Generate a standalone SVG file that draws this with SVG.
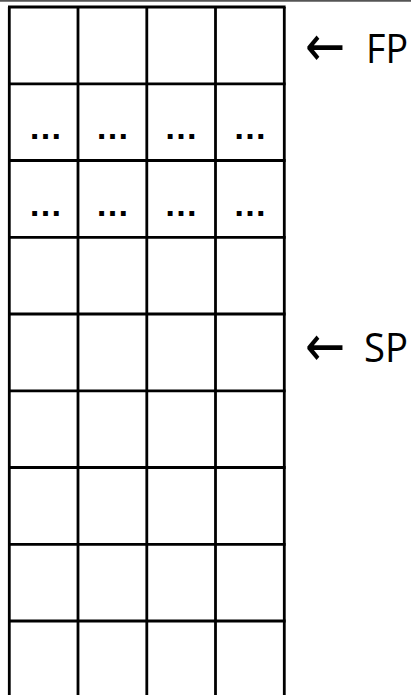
<svg xmlns="http://www.w3.org/2000/svg" width="411" height="695" viewBox="0 0 411 695">
<style>
.g{stroke:#000;stroke-width:2.8;fill:none}
.d{font-family:"Liberation Sans",Arial,sans-serif;font-weight:bold;font-size:34px;text-anchor:middle;fill:#000}
.l{font-family:"Open Sans","Liberation Sans",sans-serif;font-size:40px;fill:#000}
.a{font-family:"DejaVu Sans",sans-serif;font-size:48px;fill:#000}
</style>
<rect width="411" height="695" fill="#fff"/>
<line x1="0" y1="0.8" x2="411" y2="0.8" stroke="#555" stroke-width="2"/>
<g id="grid">
<g id="connectors">
<line class="g" x1="9.3" y1="7" x2="9.3" y2="700"/>
<line class="g" x1="78" y1="7" x2="78" y2="700"/>
<line class="g" x1="146.8" y1="7" x2="146.8" y2="700"/>
<line class="g" x1="215.5" y1="7" x2="215.5" y2="700"/>
<line class="g" x1="284.3" y1="7" x2="284.3" y2="700"/>
<line class="g" x1="8" y1="7" x2="285.6" y2="7"/>
<line class="g" x1="8" y1="83.8" x2="285.6" y2="83.8"/>
<line class="g" x1="8" y1="160.5" x2="285.6" y2="160.5"/>
<line class="g" x1="8" y1="237.3" x2="285.6" y2="237.3"/>
<line class="g" x1="8" y1="314" x2="285.6" y2="314"/>
<line class="g" x1="8" y1="390.8" x2="285.6" y2="390.8"/>
<line class="g" x1="8" y1="467.5" x2="285.6" y2="467.5"/>
<line class="g" x1="8" y1="544.3" x2="285.6" y2="544.3"/>
<line class="g" x1="8" y1="621" x2="285.6" y2="621"/>
</g>
</g>
<g id="row2">
<text class="d" x="45.6" y="139" textLength="27" lengthAdjust="spacing">…</text>
<text class="d" x="112.4" y="139" textLength="27" lengthAdjust="spacing">…</text>
<text class="d" x="181.1" y="139" textLength="27" lengthAdjust="spacing">…</text>
<text class="d" x="249.9" y="139" textLength="27" lengthAdjust="spacing">…</text>
</g>
<g id="row3">
<text class="d" x="45.6" y="215.5" textLength="27" lengthAdjust="spacing">…</text>
<text class="d" x="112.4" y="215.5" textLength="27" lengthAdjust="spacing">…</text>
<text class="d" x="181.1" y="215.5" textLength="27" lengthAdjust="spacing">…</text>
<text class="d" x="249.9" y="215.5" textLength="27" lengthAdjust="spacing">…</text>
</g>
<g id="fp">
<text class="a" transform="translate(305,48.5) scale(1,1.2)" x="0" y="14.5">←</text>
<text class="l" x="366" y="62.5" textLength="42" lengthAdjust="spacingAndGlyphs">FP</text>
</g>
<g id="sp">
<text class="a" transform="translate(305,348.5) scale(1,1.2)" x="0" y="14.5">←</text>
<text class="l" x="364" y="362" textLength="44" lengthAdjust="spacingAndGlyphs">SP</text>
</g>
</svg>
